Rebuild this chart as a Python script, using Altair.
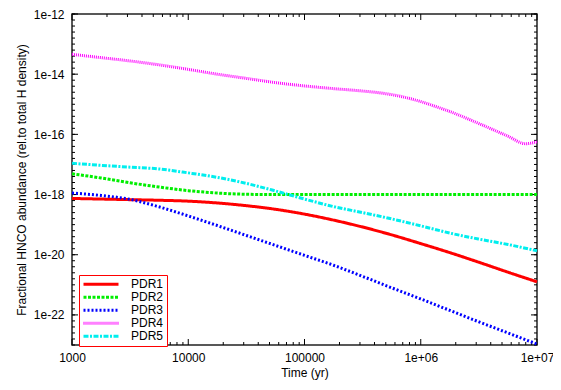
import altair as alt
import pandas as pd

series_names = ["PDR1", "PDR2", "PDR3", "PDR4", "PDR5"]
series_colors = ["#ff0000", "#00ee00", "#0000ff", "#ff00ff", "#00eeee"]
series_dashes = [[1, 0], [3, 1.5], [2, 2], [1, 1], [5, 1.5, 2, 1.5]]

# time grid (yr)
time_yr = [1000, 1778, 3162, 5623, 10000, 17783, 31623, 56234, 100000,
           177828, 316228, 562341, 1000000, 1778279, 3162278, 5623413, 10000000]
time_pdr4 = [1000, 1778, 3162, 5623, 10000, 17783, 31623, 56234, 100000,
             177828, 316228, 421697, 562341, 749894, 1000000, 1333521, 1778279,
             3162278, 5623413, 7943282, 10000000]

# log10 of fractional abundance
log_pdr1 = [-18.13, -18.15, -18.17, -18.19, -18.22, -18.28, -18.37, -18.49, -18.65,
            -18.85, -19.08, -19.34, -19.63, -19.93, -20.25, -20.58, -20.90]
log_pdr2 = [-17.31, -17.45, -17.61, -17.75, -17.87, -17.95, -17.99, -18.00, -18.00,
            -18.00, -18.00, -18.00, -18.00, -18.00, -18.00, -18.00, -18.00]
log_pdr3 = [-17.95, -18.03, -18.16, -18.41, -18.71, -19.03, -19.36, -19.69, -20.02,
            -20.35, -20.72, -21.10, -21.47, -21.85, -22.23, -22.60, -22.97]
log_pdr4 = [-13.34, -13.45, -13.56, -13.69, -13.84, -14.00, -14.14, -14.28, -14.39,
            -14.48, -14.56, -14.61, -14.68, -14.78, -14.91, -15.07, -15.24,
            -15.64, -16.06, -16.31, -16.25]
log_pdr5 = [-16.96, -17.03, -17.09, -17.15, -17.28, -17.43, -17.63, -17.88, -18.15,
            -18.40, -18.60, -18.81, -19.04, -19.28, -19.48, -19.66, -19.87]

x_label_values = [1000, 10000, 100000, 1000000, 10000000]
y_label_values = [1e-22, 1e-20, 1e-18, 1e-16, 1e-14, 1e-12]

rows = []
for name, ts, vals in [("PDR1", time_yr, log_pdr1), ("PDR2", time_yr, log_pdr2),
                       ("PDR3", time_yr, log_pdr3), ("PDR4", time_pdr4, log_pdr4),
                       ("PDR5", time_yr, log_pdr5)]:
    for t, v in zip(ts, vals):
        rows.append({"series": name, "t": t, "ab": 10 ** v})
df = pd.DataFrame(rows)

# tick positions
x_major = pd.DataFrame({"tx": [10.0 ** k for k in range(3, 8)]})
x_minor = pd.DataFrame({"tx": [m * 10.0 ** k for k in range(3, 7) for m in range(2, 10)]})
y_major = pd.DataFrame({"ty": y_label_values})
y_minor = pd.DataFrame({"ty": [10 ** (-23 + 0.2 * k) for k in range(0, 56)]})

W, H = 465, 331
FONT = "Liberation Sans"

xscale = alt.Scale(type="log", domain=[1000, 10000000], nice=False)
yscale = alt.Scale(type="log", domain=[1e-23, 1e-12], nice=False)

legend = alt.Legend(orient="none", legendX=7, legendY=261, title=None,
                    symbolType="stroke", symbolSize=1225, symbolStrokeWidth=3,
                    clipHeight=12.5, labelFontSize=12, labelFont=FONT, labelOffset=11,
                    labelColor="black",
                    strokeColor="#ff0000", fillColor="white", padding=3,
                    rowPadding=0)

lines = alt.Chart(df).mark_line(strokeWidth=3, interpolate="monotone").encode(
    x=alt.X("t:Q", scale=xscale,
            axis=alt.Axis(values=x_label_values, ticks=False, domain=False, grid=False,
                          labelExpr="datum.value < 1e6 ? format(datum.value, 'd') : '1e+0' + round(log(datum.value)/LN10)",
                          labelFontSize=12, labelFont=FONT, labelPadding=7,
                          labelOverlap=False, labelFlush=False, labelColor="black",
                          title="Time (yr)", titleFontSize=12, titleFont=FONT,
                          titleFontWeight="normal", titlePadding=4, titleColor="black")),
    y=alt.Y("ab:Q", scale=yscale,
            axis=alt.Axis(values=y_label_values, ticks=False, domain=False, grid=False,
                          labelExpr="'1e' + round(log(datum.value)/LN10)",
                          labelFontSize=12, labelFont=FONT, labelPadding=8,
                          labelOverlap=False, labelFlush=False, labelColor="black",
                          title="Fractional HNCO abundance (rel.to total H density)",
                          titleFontSize=12, titleFont=FONT, titleFontWeight="normal",
                          titlePadding=5, titleColor="black")),
    color=alt.Color("series:N", scale=alt.Scale(domain=series_names, range=series_colors),
                    legend=legend),
    strokeDash=alt.StrokeDash("series:N",
                              scale=alt.Scale(domain=series_names, range=series_dashes),
                              legend=legend),
)

def xticks(data, length):
    bottom = alt.Chart(data).mark_rule(color="black", strokeWidth=1).encode(
        x=alt.X("tx:Q", scale=xscale), y=alt.value(H), y2=alt.value(H - length))
    top = alt.Chart(data).mark_rule(color="black", strokeWidth=1).encode(
        x=alt.X("tx:Q", scale=xscale), y=alt.value(0), y2=alt.value(length))
    return bottom + top

def yticks(data, length):
    left = alt.Chart(data).mark_rule(color="black", strokeWidth=1).encode(
        y=alt.Y("ty:Q", scale=yscale), x=alt.value(0), x2=alt.value(length))
    right = alt.Chart(data).mark_rule(color="black", strokeWidth=1).encode(
        y=alt.Y("ty:Q", scale=yscale), x=alt.value(W), x2=alt.value(W - length))
    return left + right

chart = alt.layer(
    xticks(x_minor, 3), xticks(x_major, 6),
    yticks(y_minor, 3), yticks(y_major, 6),
    lines,
).properties(
    width=W, height=H,
    autosize=alt.AutoSizeParams(type="none"),
    padding={"left": 64, "top": 6, "right": 16, "bottom": 37},
).configure_view(stroke="#222222", strokeWidth=1.5)

chart.save("out.html", embed_options={"renderer": "svg", "actions": False})
